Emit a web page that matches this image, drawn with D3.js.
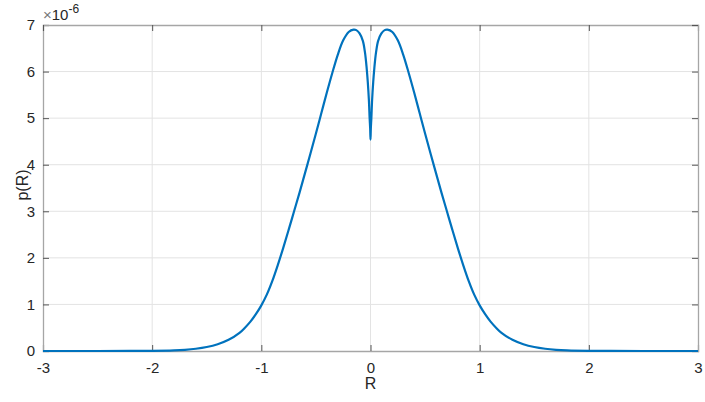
<!DOCTYPE html>
<html>
<head>
<meta charset="utf-8">
<script src="https://cdn.jsdelivr.net/npm/d3@7"></script>
<style>
  body { margin: 0; background: #fff; }
  text { font-family: "Liberation Sans", Arial, Helvetica, sans-serif; }
</style>
</head>
<body>
<div id="chart"></div>
<script>
// values, p(R) in units of 1e-6
const rValues = [-3, -2.5, -2.2, -2, -1.8, -1.7, -1.6, -1.5, -1.4, -1.3, -1.2, -1.15, -1.1, -1.05, -1, -0.95, -0.9,
  -0.85, -0.8, -0.75, -0.7, -0.65, -0.6, -0.55, -0.5, -0.45, -0.4, -0.35, -0.3, -0.25, -0.2, -0.155, -0.13, -0.1,
  -0.07, -0.05, -0.035, -0.025, -0.015, -0.008, -0.003, 0,
  0.003, 0.008, 0.015, 0.025, 0.035, 0.05, 0.07, 0.1, 0.13, 0.155, 0.2, 0.25, 0.3, 0.35, 0.4, 0.45, 0.5, 0.55,
  0.6, 0.65, 0.7, 0.75, 0.8, 0.85, 0.9, 0.95, 1, 1.05, 1.1, 1.15, 1.2, 1.3, 1.4, 1.5, 1.6, 1.7, 1.8, 2, 2.2, 2.5, 3];
const pValues = [0, 0, 0.001, 0.004, 0.014, 0.026, 0.048, 0.085, 0.145, 0.24, 0.39, 0.5, 0.63, 0.79, 0.98, 1.21, 1.5,
  1.84, 2.21, 2.6, 3.0, 3.4, 3.82, 4.24, 4.67, 5.11, 5.55, 5.97, 6.36, 6.67, 6.85, 6.9, 6.89, 6.82,
  6.66, 6.4, 6.07, 5.78, 5.4, 5.0, 4.78, 4.54,
  4.78, 5.0, 5.4, 5.78, 6.07, 6.4, 6.66, 6.82, 6.89, 6.9, 6.85, 6.67, 6.36, 5.97, 5.55, 5.11, 4.67, 4.24,
  3.82, 3.4, 3.0, 2.6, 2.21, 1.84, 1.5, 1.21, 0.98, 0.79, 0.63, 0.5, 0.39, 0.24, 0.145, 0.085, 0.048, 0.026, 0.014, 0.004, 0.001, 0, 0];
const xTicks = [-3, -2, -1, 0, 1, 2, 3];
const yTicks = [0, 1, 2, 3, 4, 5, 6, 7];

const data = rValues.map((r, i) => ({ r: r, p: pValues[i] }));

const W = 705, H = 402;
const margin = { top: 25, right: 7, bottom: 51, left: 43 };
const width = W - margin.left - margin.right,
  height = H - margin.top - margin.bottom;

const svg = d3.select("#chart").append("svg")
  .attr("width", W).attr("height", H);

const g = svg.append("g")
  .attr("transform", `translate(${margin.left},${margin.top})`);

const x = d3.scaleLinear().domain([-3, 3]).range([0, width]);
const y = d3.scaleLinear().domain([0, 7]).range([height, 0]);

// grid
g.append("g").selectAll("line").data(xTicks.slice(1, -1)).join("line")
  .attr("x1", d => x(d)).attr("x2", d => x(d))
  .attr("y1", 0).attr("y2", height)
  .attr("stroke", "#e3e3e3").attr("stroke-width", 1);
g.append("g").selectAll("line").data(yTicks.slice(1, -1)).join("line")
  .attr("x1", 0).attr("x2", width)
  .attr("y1", d => y(d)).attr("y2", d => y(d))
  .attr("stroke", "#e3e3e3").attr("stroke-width", 1);

// axes (ticks inward, mirrored on top and right)
const tickLen = 6;
const axisColor = "#a6a6a6";
const labelColor = "#262626";
const fmt = d => String(d); // plain hyphen minus like the reference

const xAxis = g.append("g").attr("transform", `translate(0,${height})`)
  .call(d3.axisBottom(x).tickValues(xTicks).tickSize(-tickLen).tickPadding(14).tickFormat(fmt));
const yAxis = g.append("g")
  .call(d3.axisLeft(y).tickValues(yTicks).tickSize(-tickLen).tickPadding(14).tickFormat(fmt));
const xTop = g.append("g")
  .call(d3.axisTop(x).tickValues(xTicks).tickSize(-tickLen).tickFormat(""));
const yRight = g.append("g").attr("transform", `translate(${width},0)`)
  .call(d3.axisRight(y).tickValues(yTicks).tickSize(-tickLen).tickFormat(""));

[xAxis, yAxis, xTop, yRight].forEach(a => {
  a.select(".domain").attr("stroke", axisColor).attr("stroke-width", 1.3);
  a.selectAll(".tick line").attr("stroke", "#555");
  a.selectAll(".tick text").attr("fill", labelColor).style("font-size", "15px");
});
xAxis.selectAll(".tick text").attr("dy", "0.55em");
yAxis.selectAll(".tick text").attr("x", -8);

// the curve
g.append("path")
  .datum(data)
  .attr("fill", "none")
  .attr("stroke", "#0072BD")
  .attr("stroke-width", 2.2)
  .attr("stroke-linejoin", "round")
  .attr("d", d3.line().x(d => x(d.r)).y(d => y(d.p)).curve(d3.curveCatmullRom.alpha(0.5)));

// exponent label
const ex = svg.append("text").attr("x", 43).attr("y", 20)
  .attr("fill", labelColor).style("font-size", "15px");
ex.append("tspan").attr("fill", "#777").text("\u00d7");
ex.append("tspan").text("10");
ex.append("tspan").attr("dy", -7).style("font-size", "12px").text("-6");

// axis labels
svg.append("text").attr("x", margin.left + width / 2).attr("y", 389)
  .attr("text-anchor", "middle").attr("fill", labelColor)
  .style("font-size", "16px").text("R");
svg.append("text")
  .attr("transform", `translate(28,${margin.top + height / 2 - 3}) rotate(-90)`)
  .attr("text-anchor", "middle").attr("fill", labelColor)
  .style("font-size", "16px").text("p(R)");
</script>
</body>
</html>
